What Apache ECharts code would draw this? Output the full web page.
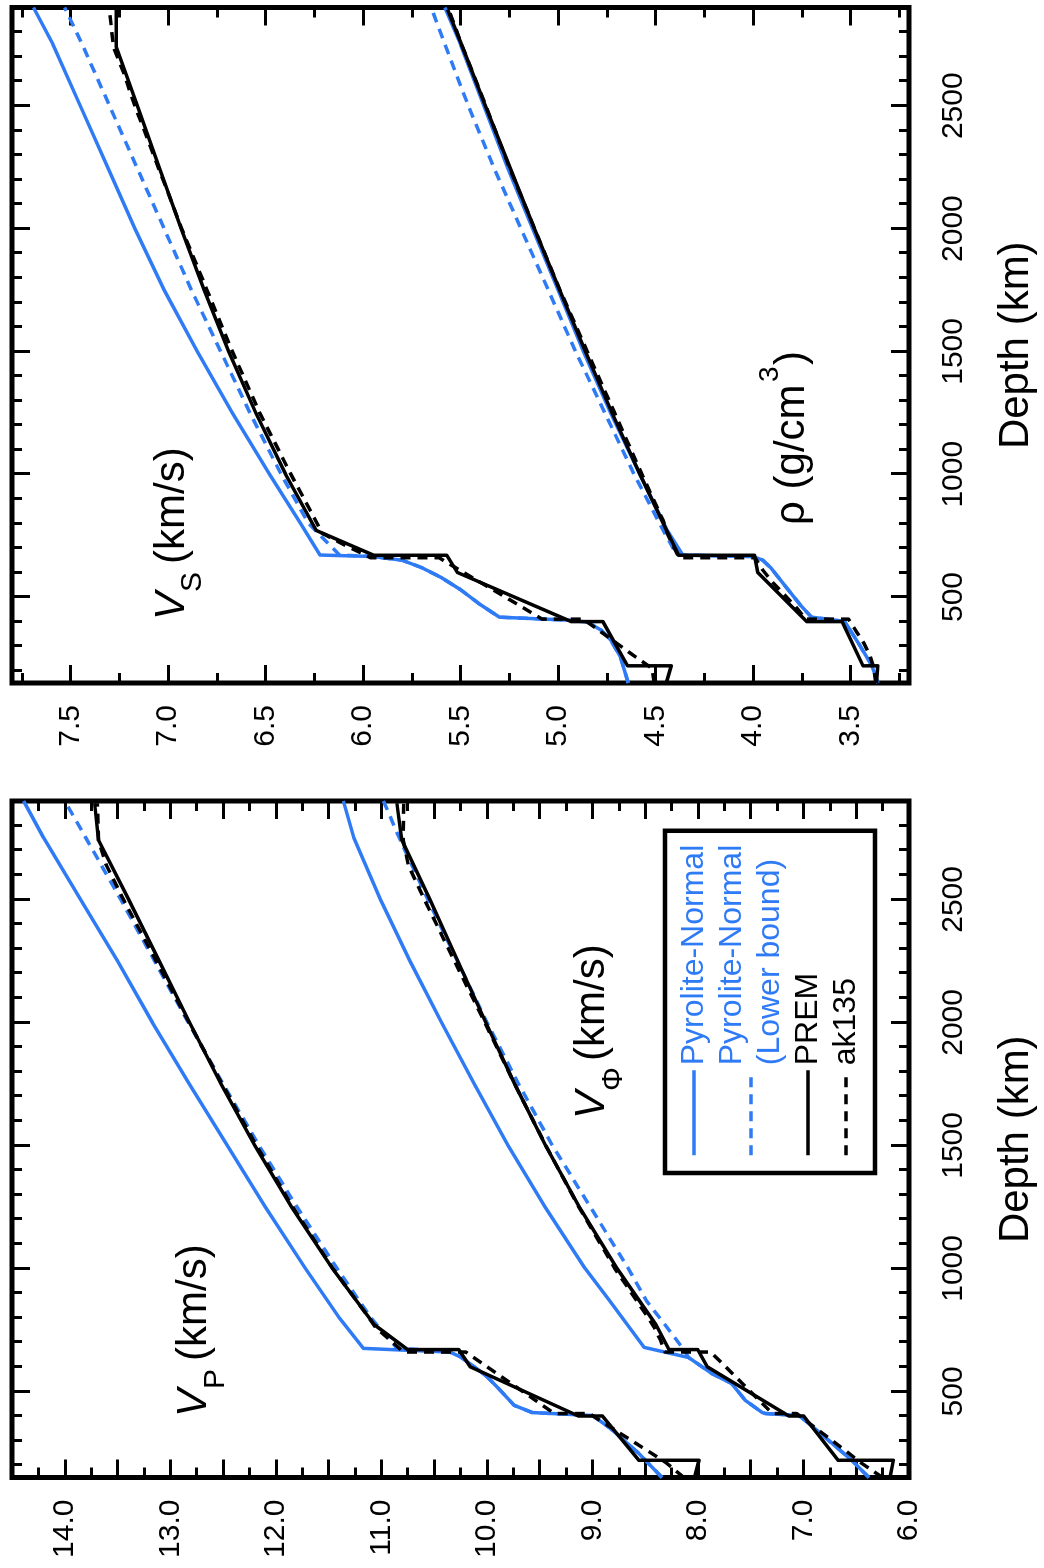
<!DOCTYPE html>
<html>
<head>
<meta charset="utf-8">
<script src="https://cdn.jsdelivr.net/npm/echarts@6/dist/echarts.min.js"></script>
<style>
  html, body { margin: 0; padding: 0; background: #ffffff; }
  body { width: 1044px; height: 1568px; overflow: hidden; position: relative; }
  /* the two panels are laid out side by side, then the whole figure is turned a quarter turn counter-clockwise */
  #chart { position: absolute; left: 0; top: 0; width: 1568px; height: 1044px;
           transform-origin: 0 0; transform: translate(0, 1568px) rotate(-90deg); }
</style>
</head>
<body>
<div id="chart"></div>
<script>
// ---------- reference Earth models (depth in km) ----------
const premDepth = [150, 220, 220, 400, 400, 600, 670, 670, 771, 1000, 1250, 1500, 1750, 2000, 2250, 2500, 2741, 2891];
const premVp    = [8.033, 7.990, 8.559, 8.905, 9.133, 10.157, 10.266, 10.751, 11.066, 11.464, 11.851, 12.200, 12.519, 12.818, 13.106, 13.395, 13.680, 13.717];
const premVphi  = [6.180, 6.148, 6.671, 6.998, 7.139, 7.912, 8.002, 8.274, 8.398, 8.767, 9.124, 9.444, 9.737, 10.011, 10.276, 10.541, 10.806, 10.853];
const premVs    = [4.445, 4.419, 4.644, 4.770, 4.932, 5.516, 5.570, 5.945, 6.240, 6.397, 6.550, 6.689, 6.815, 6.933, 7.046, 7.157, 7.266, 7.265];
const premRho   = [3.367, 3.360, 3.436, 3.543, 3.724, 3.976, 3.992, 4.381, 4.443, 4.580, 4.723, 4.860, 4.992, 5.121, 5.247, 5.372, 5.491, 5.566];

const akDepth = [150, 210, 260, 310, 360, 410, 410, 460, 510, 560, 610, 660, 660, 710, 760, 810, 1000, 1250, 1500, 1750, 2000, 2250, 2500, 2640, 2740, 2891];
const akVp    = [8.133, 8.301, 8.482, 8.665, 8.848, 9.030, 9.360, 9.528, 9.696, 9.864, 10.032, 10.200, 10.791, 10.922, 11.055, 11.136, 11.460, 11.840, 12.185, 12.509, 12.823, 13.135, 13.445, 13.607, 13.680, 13.691];
const akVphi  = [6.251, 6.456, 6.605, 6.758, 6.912, 7.065, 7.293, 7.411, 7.528, 7.644, 7.761, 7.879, 8.311, 8.357, 8.414, 8.488, 8.788, 9.129, 9.442, 9.738, 10.020, 10.308, 10.593, 10.745, 10.793, 10.788];
const akVs    = [4.507, 4.518, 4.609, 4.696, 4.783, 4.870, 5.081, 5.186, 5.292, 5.399, 5.505, 5.610, 5.961, 6.090, 6.210, 6.242, 6.370, 6.530, 6.670, 6.800, 6.930, 7.050, 7.170, 7.230, 7.280, 7.300];
const akRho   = [3.370, 3.380, 3.400, 3.430, 3.470, 3.510, 3.730, 3.780, 3.840, 3.900, 3.950, 3.990, 4.380, 4.410, 4.440, 4.460, 4.570, 4.710, 4.850, 4.990, 5.120, 5.250, 5.370, 5.440, 5.490, 5.560];

// ---------- pyrolite model, normal mantle temperature ----------
const pyrVpDepth  = [150, 248, 353, 402, 410, 414, 443, 512, 560, 600, 640, 660, 668, 675, 800, 1000, 1250, 1500, 1750, 2000, 2250, 2500, 2750, 2900];
const pyrVp       = [8.34, 8.56, 8.84, 9.00, 9.38, 9.57, 9.74, 9.89, 10.00, 10.12, 10.25, 10.35, 10.80, 11.17, 11.40, 11.72, 12.10, 12.46, 12.82, 13.17, 13.50, 13.85, 14.20, 14.39];
const pyrVpLow    = [8.34, 8.56, 8.84, 9.00, 9.38, 9.57, 9.74, 9.89, 10.00, 10.12, 10.25, 10.35, 10.55, 10.85, 11.10, 11.42, 11.80, 12.16, 12.50, 12.83, 13.15, 13.47, 13.80, 14.00];

const pyrVphiDepth = [150, 219, 300, 402, 410, 414, 463, 532, 573, 638, 679, 870, 1000, 1250, 1500, 1750, 2000, 2250, 2500, 2750, 2900];
const pyrVphi      = [6.38, 6.54, 6.76, 7.04, 7.36, 7.39, 7.55, 7.68, 7.87, 8.09, 8.51, 8.84, 9.07, 9.45, 9.80, 10.12, 10.43, 10.73, 11.01, 11.26, 11.36];
const pyrVphiLowDepth = [150, 219, 300, 402, 410, 414, 463, 532, 573, 638, 667, 736, 870, 1000, 1250, 1500, 1750, 2000, 2250, 2500, 2750, 2900];
const pyrVphiLow      = [6.38, 6.54, 6.76, 7.04, 7.36, 7.39, 7.55, 7.68, 7.87, 8.09, 8.13, 8.25, 8.49, 8.66, 9.02, 9.38, 9.70, 10.00, 10.28, 10.56, 10.83, 10.98];

const pyrVsDepth = [150, 256, 325, 366, 398, 406, 418, 470, 530, 580, 620, 650, 665, 671, 800, 1000, 1250, 1500, 1750, 2000, 2250, 2500, 2750, 2900];
const pyrVs      = [4.64, 4.68, 4.73, 4.78, 4.85, 4.95, 5.30, 5.40, 5.50, 5.60, 5.70, 5.80, 5.95, 6.22, 6.32, 6.48, 6.67, 6.85, 7.02, 7.17, 7.31, 7.45, 7.59, 7.69];
const pyrVsLow   = [4.64, 4.68, 4.73, 4.78, 4.85, 4.95, 5.30, 5.40, 5.50, 5.60, 5.70, 5.80, 5.95, 6.12, 6.28, 6.42, 6.58, 6.73, 6.88, 7.02, 7.16, 7.30, 7.44, 7.53];

const pyrRhoDepth = [150, 220, 300, 400, 406, 418, 470, 530, 580, 620, 650, 665, 671, 771, 1000, 1250, 1500, 1750, 2000, 2250, 2500, 2750, 2900];
const pyrRho      = [3.36, 3.39, 3.45, 3.53, 3.58, 3.70, 3.76, 3.82, 3.87, 3.91, 3.95, 4.00, 4.36, 4.44, 4.58, 4.73, 4.87, 5.00, 5.13, 5.26, 5.38, 5.50, 5.58];
const pyrRhoLow   = [3.36, 3.39, 3.45, 3.53, 3.58, 3.70, 3.76, 3.82, 3.87, 3.91, 3.95, 4.00, 4.39, 4.46, 4.61, 4.76, 4.91, 5.05, 5.19, 5.33, 5.46, 5.58, 5.65];

// ---------- axis ticks and labels ----------
const depthLabels = [500, 1000, 1500, 2000, 2500];
const depthMajor  = [500, 1000, 1500, 2000, 2500];
const depthMinor  = [200, 300, 400, 600, 700, 800, 900, 1100, 1200, 1300, 1400, 1600, 1700, 1800, 1900,
                     2100, 2200, 2300, 2400, 2600, 2700, 2800];
const vpLabels = [6, 7, 8, 9, 10, 11, 12, 13, 14];
const vpMajor  = [6.5, 7, 7.5, 8, 8.5, 9, 9.5, 10, 10.5, 11, 11.5, 12, 12.5, 13, 13.5, 14];
const vpMinor  = [6.25, 6.75, 7.25, 7.75, 8.25, 8.75, 9.25, 9.75, 10.25, 10.75, 11.25, 11.75, 12.25, 12.75, 13.25, 13.75, 14.25];
const vsLabels = [3.5, 4, 4.5, 5, 5.5, 6, 6.5, 7, 7.5];
const vsMajor  = [3.5, 4, 4.5, 5, 5.5, 6, 6.5, 7, 7.5];
const vsMinor  = [3.25, 3.75, 4.25, 4.75, 5.25, 5.75, 6.25, 6.75, 7.25, 7.75];

const BLUE = '#2f7bf6';
const BLACK = '#000000';
const FONT = '"Liberation Sans", Arial, Helvetica, sans-serif';
const NAME_PYR = 'Pyrolite-Normal';
const NAME_PYR_LOW = 'Pyrolite-Normal\n(Lower bound)';
const NAME_PREM = 'PREM';
const NAME_AK = 'ak135';

// one ticked edge of a panel frame
function edgeAxis(grid, position, min, max, ticks, len, labelOpt, nameOpt) {
  const ax = {
    type: 'value', gridIndex: grid, position: position, min: min, max: max,
    silent: true,
    axisLine: { show: false },
    splitLine: { show: false },
    axisTick: { show: true, inside: true, length: len, customValues: ticks,
                lineStyle: { color: BLACK, width: 3 } },
    axisLabel: { show: false }
  };
  if (labelOpt) ax.axisLabel = labelOpt;
  if (nameOpt) Object.assign(ax, nameOpt);
  return ax;
}

function depthAxes(grid) {
  return [
    edgeAxis(grid, 'bottom', 150, 2900, depthMajor, 18,
      { show: true, customValues: depthLabels, margin: 30, color: BLACK, fontSize: 30, fontFamily: FONT,
        formatter: v => String(Math.round(v)) },
      { name: 'Depth (km)', nameLocation: 'middle', nameGap: 86,
        nameTextStyle: { color: BLACK, fontSize: 42, fontFamily: FONT } }),
    edgeAxis(grid, 'bottom', 150, 2900, depthMinor, 10),
    edgeAxis(grid, 'top', 150, 2900, depthMajor, 18),
    edgeAxis(grid, 'top', 150, 2900, depthMinor, 10)
  ];
}

function speedAxes(grid, min, max, labels, major, minor) {
  return [
    edgeAxis(grid, 'left', min, max, major, 18,
      { show: true, customValues: labels, margin: 22, color: BLACK, fontSize: 30, fontFamily: FONT,
        formatter: v => Number(v).toFixed(1) }),
    edgeAxis(grid, 'left', min, max, minor, 10),
    edgeAxis(grid, 'right', min, max, major, 18),
    edgeAxis(grid, 'right', min, max, minor, 10)
  ];
}

function curve(name, grid, depths, values, color, dashed, z) {
  return {
    type: 'line', name: name, xAxisIndex: grid * 4, yAxisIndex: grid * 4,
    data: depths.map((d, i) => [d, values[i]]),
    symbol: 'none', showSymbol: false, clip: true, silent: true, animation: false, z: z,
    lineStyle: { color: color, width: 3.5, type: dashed ? [10, 7] : 'solid', join: 'round' },
    itemStyle: { color: color }
  };
}

function label(text, x, y, size, italic) {
  return {
    type: 'text', silent: true,
    style: { text: text, x: x, y: y, fill: BLACK,
             font: (italic ? 'italic ' : '') + size + 'px ' + FONT,
             textAlign: 'left', textVerticalAlign: 'middle', align: 'left', verticalAlign: 'middle' }
  };
}

const series = [
  // left panel: P-wave and bulk sound speed
  curve(NAME_PYR, 0, pyrVpDepth, pyrVp, BLUE, false, 2),
  curve(NAME_PYR_LOW, 0, pyrVpDepth, pyrVpLow, BLUE, true, 3),
  curve(NAME_PREM, 0, premDepth, premVp, BLACK, false, 4),
  curve(NAME_AK, 0, akDepth, akVp, BLACK, true, 5),
  curve(NAME_PYR, 0, pyrVphiDepth, pyrVphi, BLUE, false, 2),
  curve(NAME_PYR_LOW, 0, pyrVphiLowDepth, pyrVphiLow, BLUE, true, 3),
  curve(NAME_PREM, 0, premDepth, premVphi, BLACK, false, 4),
  curve(NAME_AK, 0, akDepth, akVphi, BLACK, true, 5),
  // right panel: S-wave speed and density
  curve(NAME_PYR, 1, pyrVsDepth, pyrVs, BLUE, false, 2),
  curve(NAME_PYR_LOW, 1, pyrVsDepth, pyrVsLow, BLUE, true, 3),
  curve(NAME_PREM, 1, premDepth, premVs, BLACK, false, 4),
  curve(NAME_AK, 1, akDepth, akVs, BLACK, true, 5),
  curve(NAME_PYR, 1, pyrRhoDepth, pyrRho, BLUE, false, 2),
  curve(NAME_PYR_LOW, 1, pyrRhoDepth, pyrRhoLow, BLUE, true, 3),
  curve(NAME_PREM, 1, premDepth, premRho, BLACK, false, 4),
  curve(NAME_AK, 1, akDepth, akRho, BLACK, true, 5)
];

const option = {
  backgroundColor: '#ffffff',
  animation: false,
  grid: [
    { left: 90.5, top: 12, width: 676.5, height: 897, show: true, borderColor: BLACK, borderWidth: 5, backgroundColor: 'transparent' },
    { left: 885, top: 12, width: 675.5, height: 897, show: true, borderColor: BLACK, borderWidth: 5, backgroundColor: 'transparent' }
  ],
  xAxis: depthAxes(0).concat(depthAxes(1)),
  yAxis: speedAxes(0, 6, 14.5, vpLabels, vpMajor, vpMinor).concat(speedAxes(1, 3.2, 7.8, vsLabels, vsMajor, vsMinor)),
  legend: {
    show: true, orient: 'vertical', left: 395, top: 665,
    padding: [10, 14, 10, 16], itemGap: 0, itemWidth: 85, itemHeight: 24,
    backgroundColor: '#ffffff', borderColor: BLACK, borderWidth: 4.5, borderRadius: 0,
    selectedMode: false,
    itemStyle: { opacity: 0 },
    lineStyle: { width: 3.5 },
    textStyle: { fontSize: 32, fontFamily: FONT, lineHeight: 38, color: BLACK },
    data: [
      { name: NAME_PYR, textStyle: { color: BLUE } },
      { name: NAME_PYR_LOW, textStyle: { color: BLUE } },
      { name: NAME_PREM, textStyle: { color: BLACK } },
      { name: NAME_AK, textStyle: { color: BLACK } }
    ]
  },
  graphic: [
    label('V', 151, 194, 42, true), label('P', 179, 216, 30, false), label('(km/s)', 207, 194, 42, false),
    label('V', 449, 592, 42, true), label('\u03A6', 477, 614, 30, false), label('(km/s)', 507, 592, 42, false),
    label('V', 948, 172, 42, true), label('S', 976, 193, 30, false), label('(km/s)', 1004, 172, 42, false),
    label('\u03C1 (g/cm', 1043, 792, 42, false), label('3', 1186, 770, 28, false), label(')', 1203, 792, 42, false)
  ],
  series: series
};

const chart = echarts.init(document.getElementById('chart'), null, { renderer: 'canvas', width: 1568, height: 1044 });
chart.setOption(option);
</script>
</body>
</html>
